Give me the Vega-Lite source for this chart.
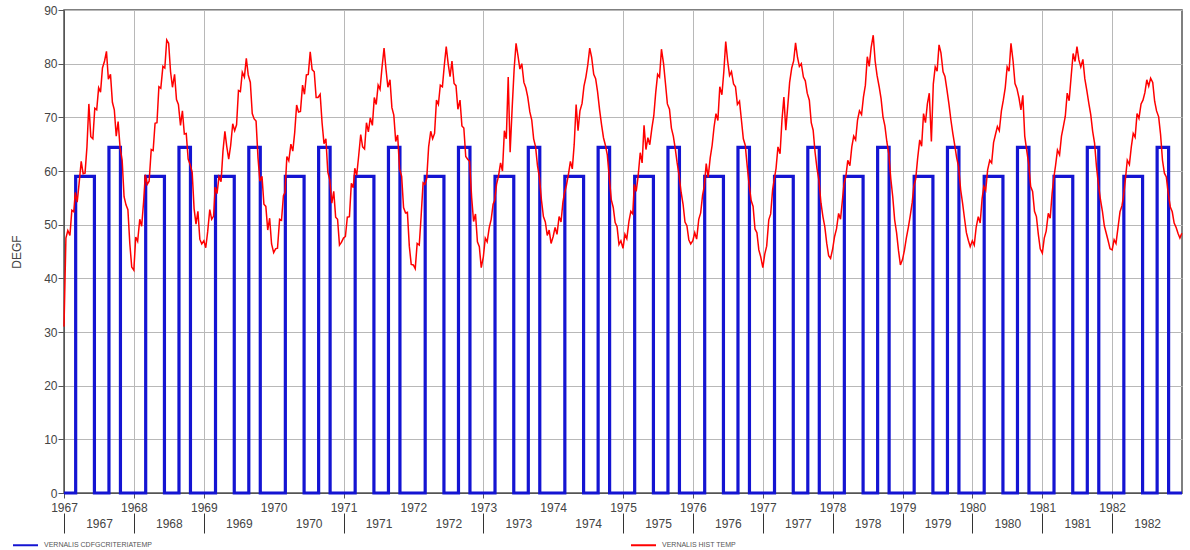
{
"$schema":"https://vega.github.io/schema/vega-lite/v6.json",
"width":1118,"height":483,
"autosize":{"type":"none"},
"padding":{"left":64,"top":10,"right":8,"bottom":57},
"background":"white",
"config":{
 "font":"Liberation Sans",
 "view":{"stroke":"#555555","strokeWidth":1.5},
 "axis":{"labelFont":"Liberation Sans","labelFontSize":12,"labelColor":"#444444","domainColor":"#555555","tickColor":"#555555","gridColor":"#b8b8b8","titleFont":"Liberation Sans","titleFontWeight":"normal","titleColor":"#444444","titleFontSize":12}
},
"datasets":{
"crit":[
{"d":"1967-01-01","v":0},{"d":"1967-03-03","v":59},{"d":"1967-06-09","v":0},{"d":"1967-08-24","v":64.4},{"d":"1967-10-23","v":0},
{"d":"1968-01-01","v":0},{"d":"1968-03-03","v":59},{"d":"1968-06-09","v":0},{"d":"1968-08-24","v":64.4},{"d":"1968-10-23","v":0},
{"d":"1969-01-01","v":0},{"d":"1969-03-03","v":59},{"d":"1969-06-09","v":0},{"d":"1969-08-24","v":64.4},{"d":"1969-10-23","v":0},
{"d":"1970-01-01","v":0},{"d":"1970-03-03","v":59},{"d":"1970-06-09","v":0},{"d":"1970-08-24","v":64.4},{"d":"1970-10-23","v":0},
{"d":"1971-01-01","v":0},{"d":"1971-03-03","v":59},{"d":"1971-06-09","v":0},{"d":"1971-08-24","v":64.4},{"d":"1971-10-23","v":0},
{"d":"1972-01-01","v":0},{"d":"1972-03-03","v":59},{"d":"1972-06-09","v":0},{"d":"1972-08-24","v":64.4},{"d":"1972-10-23","v":0},
{"d":"1973-01-01","v":0},{"d":"1973-03-03","v":59},{"d":"1973-06-09","v":0},{"d":"1973-08-24","v":64.4},{"d":"1973-10-23","v":0},
{"d":"1974-01-01","v":0},{"d":"1974-03-03","v":59},{"d":"1974-06-09","v":0},{"d":"1974-08-24","v":64.4},{"d":"1974-10-23","v":0},
{"d":"1975-01-01","v":0},{"d":"1975-03-03","v":59},{"d":"1975-06-09","v":0},{"d":"1975-08-24","v":64.4},{"d":"1975-10-23","v":0},
{"d":"1976-01-01","v":0},{"d":"1976-03-03","v":59},{"d":"1976-06-09","v":0},{"d":"1976-08-24","v":64.4},{"d":"1976-10-23","v":0},
{"d":"1977-01-01","v":0},{"d":"1977-03-03","v":59},{"d":"1977-06-09","v":0},{"d":"1977-08-24","v":64.4},{"d":"1977-10-23","v":0},
{"d":"1978-01-01","v":0},{"d":"1978-03-03","v":59},{"d":"1978-06-09","v":0},{"d":"1978-08-24","v":64.4},{"d":"1978-10-23","v":0},
{"d":"1979-01-01","v":0},{"d":"1979-03-03","v":59},{"d":"1979-06-09","v":0},{"d":"1979-08-24","v":64.4},{"d":"1979-10-23","v":0},
{"d":"1980-01-01","v":0},{"d":"1980-03-03","v":59},{"d":"1980-06-09","v":0},{"d":"1980-08-24","v":64.4},{"d":"1980-10-23","v":0},
{"d":"1981-01-01","v":0},{"d":"1981-03-03","v":59},{"d":"1981-06-09","v":0},{"d":"1981-08-24","v":64.4},{"d":"1981-10-23","v":0},
{"d":"1982-01-01","v":0},{"d":"1982-03-03","v":59},{"d":"1982-06-09","v":0},{"d":"1982-08-24","v":64.4},{"d":"1982-10-23","v":0},
{"d":"1983-01-01","v":0}
],
"hist":[
{"d":"1967-01-01","v":31},{"d":"1967-01-11","v":47.5},{"d":"1967-01-21","v":48.9},{"d":"1967-02-01","v":48},{"d":"1967-02-11","v":52.7},{"d":"1967-02-21","v":52.4},{"d":"1967-03-01","v":56},{"d":"1967-03-11","v":54.2},{"d":"1967-03-21","v":57.7},{"d":"1967-04-01","v":61.8},{"d":"1967-04-11","v":59.5},{"d":"1967-04-21","v":59.6},{"d":"1967-05-01","v":64.5},{"d":"1967-05-11","v":72.5},{"d":"1967-05-21","v":66.4},{"d":"1967-06-01","v":66},{"d":"1967-06-11","v":71.7},{"d":"1967-06-21","v":71.4},{"d":"1967-07-01","v":75.5},{"d":"1967-07-11","v":74.7},{"d":"1967-07-21","v":79.2},{"d":"1967-08-01","v":80.5},{"d":"1967-08-11","v":82.3},{"d":"1967-08-21","v":77.1},{"d":"1967-09-01","v":78},{"d":"1967-09-11","v":72.8},{"d":"1967-09-21","v":71.4},{"d":"1967-10-01","v":66.5},{"d":"1967-10-11","v":69.2},{"d":"1967-10-21","v":64.4},{"d":"1967-11-01","v":62},{"d":"1967-11-11","v":55.2},{"d":"1967-11-21","v":53.7},{"d":"1967-12-01","v":52.8},{"d":"1967-12-11","v":46.5},{"d":"1967-12-21","v":42.1},
{"d":"1968-01-01","v":41.5},{"d":"1968-01-11","v":47.7},{"d":"1968-01-21","v":46.9},{"d":"1968-02-01","v":51},{"d":"1968-02-11","v":49.7},{"d":"1968-02-21","v":54.2},{"d":"1968-03-01","v":59.3},{"d":"1968-03-11","v":57.5},{"d":"1968-03-21","v":58.1},{"d":"1968-04-01","v":64},{"d":"1968-04-11","v":63.8},{"d":"1968-04-21","v":68.9},{"d":"1968-05-01","v":69},{"d":"1968-05-11","v":75.7},{"d":"1968-05-21","v":75.4},{"d":"1968-06-01","v":79.5},{"d":"1968-06-11","v":79.2},{"d":"1968-06-21","v":84.4},{"d":"1968-07-01","v":83.8},{"d":"1968-07-11","v":78.5},{"d":"1968-07-21","v":75.6},{"d":"1968-08-01","v":78},{"d":"1968-08-11","v":73.3},{"d":"1968-08-21","v":72.4},{"d":"1968-09-01","v":68.5},{"d":"1968-09-11","v":71.2},{"d":"1968-09-21","v":66.9},{"d":"1968-10-01","v":67},{"d":"1968-10-11","v":62.2},{"d":"1968-10-21","v":61.2},{"d":"1968-11-01","v":59.8},{"d":"1968-11-11","v":53},{"d":"1968-11-21","v":50.1},{"d":"1968-12-01","v":52.5},{"d":"1968-12-11","v":47.3},{"d":"1968-12-21","v":46.4},
{"d":"1969-01-01","v":47},{"d":"1969-01-11","v":45.7},{"d":"1969-01-21","v":48.7},{"d":"1969-02-01","v":52.8},{"d":"1969-02-11","v":51},{"d":"1969-02-21","v":51.6},{"d":"1969-03-01","v":57},{"d":"1969-03-11","v":55.8},{"d":"1969-03-21","v":58.9},{"d":"1969-04-01","v":58},{"d":"1969-04-11","v":63.7},{"d":"1969-04-21","v":67.4},{"d":"1969-05-01","v":64.5},{"d":"1969-05-11","v":62.2},{"d":"1969-05-21","v":64.7},{"d":"1969-06-01","v":68.8},{"d":"1969-06-11","v":67.5},{"d":"1969-06-21","v":68.6},{"d":"1969-07-01","v":75},{"d":"1969-07-11","v":74.8},{"d":"1969-07-21","v":78.4},{"d":"1969-08-01","v":77.5},{"d":"1969-08-11","v":81},{"d":"1969-08-21","v":77.9},{"d":"1969-09-01","v":76.5},{"d":"1969-09-11","v":70.7},{"d":"1969-09-21","v":69.7},{"d":"1969-10-01","v":69.3},{"d":"1969-10-11","v":62.5},{"d":"1969-10-21","v":58.1},{"d":"1969-11-01","v":59},{"d":"1969-11-11","v":53.8},{"d":"1969-11-21","v":53.4},{"d":"1969-12-01","v":49},{"d":"1969-12-11","v":51.2},{"d":"1969-12-21","v":46.4},
{"d":"1970-01-01","v":44.8},{"d":"1970-01-11","v":45.5},{"d":"1970-01-21","v":45.6},{"d":"1970-02-01","v":51},{"d":"1970-02-11","v":50.8},{"d":"1970-02-21","v":55.4},{"d":"1970-03-01","v":56},{"d":"1970-03-11","v":62.7},{"d":"1970-03-21","v":61.9},{"d":"1970-04-01","v":65},{"d":"1970-04-11","v":63.7},{"d":"1970-04-21","v":67.2},{"d":"1970-05-01","v":72.3},{"d":"1970-05-11","v":71},{"d":"1970-05-21","v":71.1},{"d":"1970-06-01","v":76},{"d":"1970-06-11","v":74.3},{"d":"1970-06-21","v":77.9},{"d":"1970-07-01","v":78},{"d":"1970-07-11","v":82.2},{"d":"1970-07-21","v":78.9},{"d":"1970-08-01","v":78.5},{"d":"1970-08-11","v":73.7},{"d":"1970-08-21","v":73.7},{"d":"1970-09-01","v":74.3},{"d":"1970-09-11","v":69},{"d":"1970-09-21","v":65.1},{"d":"1970-10-01","v":66},{"d":"1970-10-11","v":59.8},{"d":"1970-10-21","v":58.4},{"d":"1970-11-01","v":54},{"d":"1970-11-11","v":56.2},{"d":"1970-11-21","v":51.4},{"d":"1970-12-01","v":51},{"d":"1970-12-11","v":46.2},{"d":"1970-12-21","v":46.7},
{"d":"1971-01-01","v":47.5},{"d":"1971-01-11","v":47.8},{"d":"1971-01-21","v":51.4},{"d":"1971-02-01","v":51.5},{"d":"1971-02-11","v":57.7},{"d":"1971-02-21","v":56.9},{"d":"1971-03-01","v":60.5},{"d":"1971-03-11","v":59.2},{"d":"1971-03-21","v":62.7},{"d":"1971-04-01","v":66.8},{"d":"1971-04-11","v":64.5},{"d":"1971-04-21","v":64.1},{"d":"1971-05-01","v":69},{"d":"1971-05-11","v":67.3},{"d":"1971-05-21","v":69.9},{"d":"1971-06-01","v":68.5},{"d":"1971-06-11","v":73.7},{"d":"1971-06-21","v":72.4},{"d":"1971-07-01","v":76},{"d":"1971-07-11","v":75.2},{"d":"1971-07-21","v":79.2},{"d":"1971-08-01","v":82.9},{"d":"1971-08-11","v":79},{"d":"1971-08-21","v":75.6},{"d":"1971-09-01","v":77},{"d":"1971-09-11","v":71.8},{"d":"1971-09-21","v":70.4},{"d":"1971-10-01","v":65.5},{"d":"1971-10-11","v":66.7},{"d":"1971-10-21","v":60.4},{"d":"1971-11-01","v":59},{"d":"1971-11-11","v":53.2},{"d":"1971-11-21","v":52.2},{"d":"1971-12-01","v":52.3},{"d":"1971-12-11","v":46},{"d":"1971-12-21","v":42.6},
{"d":"1972-01-01","v":42.5},{"d":"1972-01-11","v":41.8},{"d":"1972-01-21","v":46.5},{"d":"1972-02-01","v":46.2},{"d":"1972-02-11","v":51.7},{"d":"1972-02-21","v":57.8},{"d":"1972-03-01","v":57.5},{"d":"1972-03-11","v":58.6},{"d":"1972-03-21","v":64.5},{"d":"1972-04-01","v":67.4},{"d":"1972-04-11","v":66},{"d":"1972-04-21","v":67},{"d":"1972-05-01","v":73.2},{"d":"1972-05-11","v":72.4},{"d":"1972-05-21","v":76},{"d":"1972-06-01","v":75.7},{"d":"1972-06-11","v":79.7},{"d":"1972-06-21","v":83.2},{"d":"1972-07-01","v":80},{"d":"1972-07-11","v":77.6},{"d":"1972-07-21","v":80.5},{"d":"1972-08-01","v":76.3},{"d":"1972-08-11","v":75.9},{"d":"1972-08-21","v":71.5},{"d":"1972-09-01","v":73.2},{"d":"1972-09-11","v":68.4},{"d":"1972-09-21","v":68},{"d":"1972-10-01","v":62.7},{"d":"1972-10-11","v":62.2},{"d":"1972-10-21","v":61.8},{"d":"1972-11-01","v":55},{"d":"1972-11-11","v":50.6},{"d":"1972-11-21","v":52},{"d":"1972-12-01","v":46.8},{"d":"1972-12-11","v":45.9},{"d":"1972-12-21","v":42},
{"d":"1973-01-01","v":44},{"d":"1973-01-11","v":47.5},{"d":"1973-01-21","v":46.8},{"d":"1973-02-01","v":49.5},{"d":"1973-02-11","v":51},{"d":"1973-02-21","v":53.8},{"d":"1973-03-01","v":54.5},{"d":"1973-03-11","v":57.5},{"d":"1973-03-21","v":59},{"d":"1973-04-01","v":61.5},{"d":"1973-04-11","v":60},{"d":"1973-04-21","v":67.5},{"d":"1973-05-01","v":66},{"d":"1973-05-11","v":77.5},{"d":"1973-05-21","v":63.5},{"d":"1973-06-01","v":72},{"d":"1973-06-11","v":79},{"d":"1973-06-21","v":83.8},{"d":"1973-07-01","v":81.5},{"d":"1973-07-11","v":79},{"d":"1973-07-21","v":80},{"d":"1973-08-01","v":76.5},{"d":"1973-08-11","v":75.5},{"d":"1973-08-21","v":73.8},{"d":"1973-09-01","v":71},{"d":"1973-09-11","v":69.5},{"d":"1973-09-21","v":66},{"d":"1973-10-01","v":64.5},{"d":"1973-10-11","v":61},{"d":"1973-10-21","v":58.8},{"d":"1973-11-01","v":54.5},{"d":"1973-11-11","v":51.5},{"d":"1973-11-21","v":50.5},{"d":"1973-12-01","v":48},{"d":"1973-12-11","v":49},{"d":"1973-12-21","v":46.5},
{"d":"1974-01-01","v":47.8},{"d":"1974-01-11","v":49.5},{"d":"1974-01-21","v":48.2},{"d":"1974-02-01","v":51.5},{"d":"1974-02-11","v":50.5},{"d":"1974-02-21","v":54.2},{"d":"1974-03-01","v":55.9},{"d":"1974-03-11","v":57.3},{"d":"1974-03-21","v":59.2},{"d":"1974-04-01","v":61.8},{"d":"1974-04-11","v":60.4},{"d":"1974-04-21","v":65},{"d":"1974-05-01","v":72.4},{"d":"1974-05-11","v":67.5},{"d":"1974-05-21","v":71.2},{"d":"1974-06-01","v":72.6},{"d":"1974-06-11","v":75.8},{"d":"1974-06-21","v":77.5},{"d":"1974-07-01","v":79.8},{"d":"1974-07-11","v":82.9},{"d":"1974-07-21","v":81.2},{"d":"1974-08-01","v":78},{"d":"1974-08-11","v":77.2},{"d":"1974-08-21","v":74.8},{"d":"1974-09-01","v":71.3},{"d":"1974-09-11","v":68.6},{"d":"1974-09-21","v":66.2},{"d":"1974-10-01","v":64.8},{"d":"1974-10-11","v":63},{"d":"1974-10-21","v":58.9},{"d":"1974-11-01","v":54.6},{"d":"1974-11-11","v":53.2},{"d":"1974-11-21","v":50.4},{"d":"1974-12-01","v":49.6},{"d":"1974-12-11","v":46.3},{"d":"1974-12-21","v":47},
{"d":"1975-01-01","v":45.6},{"d":"1975-01-11","v":48.2},{"d":"1975-01-21","v":47.4},{"d":"1975-02-01","v":50.6},{"d":"1975-02-11","v":52.5},{"d":"1975-02-21","v":52},{"d":"1975-03-01","v":57.5},{"d":"1975-03-11","v":56.2},{"d":"1975-03-21","v":59},{"d":"1975-04-01","v":63.4},{"d":"1975-04-11","v":61.5},{"d":"1975-04-21","v":68.5},{"d":"1975-05-01","v":64},{"d":"1975-05-11","v":66.2},{"d":"1975-05-21","v":64.9},{"d":"1975-06-01","v":68},{"d":"1975-06-11","v":70.3},{"d":"1975-06-21","v":74.6},{"d":"1975-07-01","v":78},{"d":"1975-07-11","v":77.5},{"d":"1975-07-21","v":82.7},{"d":"1975-08-01","v":80},{"d":"1975-08-11","v":76.3},{"d":"1975-08-21","v":72.5},{"d":"1975-09-01","v":71.5},{"d":"1975-09-11","v":68},{"d":"1975-09-21","v":66.5},{"d":"1975-10-01","v":64.2},{"d":"1975-10-11","v":61.5},{"d":"1975-10-21","v":59.2},{"d":"1975-11-01","v":56},{"d":"1975-11-11","v":53.8},{"d":"1975-11-21","v":50.5},{"d":"1975-12-01","v":49.8},{"d":"1975-12-11","v":47.2},{"d":"1975-12-21","v":46.4},
{"d":"1976-01-01","v":47},{"d":"1976-01-11","v":48.5},{"d":"1976-01-21","v":47.3},{"d":"1976-02-01","v":51},{"d":"1976-02-11","v":52.2},{"d":"1976-02-21","v":55.5},{"d":"1976-03-01","v":57.2},{"d":"1976-03-11","v":61.4},{"d":"1976-03-21","v":58.8},{"d":"1976-04-01","v":62.5},{"d":"1976-04-11","v":64.8},{"d":"1976-04-21","v":68.2},{"d":"1976-05-01","v":70.7},{"d":"1976-05-11","v":69.4},{"d":"1976-05-21","v":75.7},{"d":"1976-06-01","v":74.2},{"d":"1976-06-11","v":78.5},{"d":"1976-06-21","v":84.1},{"d":"1976-07-01","v":80.5},{"d":"1976-07-11","v":77.8},{"d":"1976-07-21","v":78.5},{"d":"1976-08-01","v":76.2},{"d":"1976-08-11","v":75.7},{"d":"1976-08-21","v":72.4},{"d":"1976-09-01","v":73},{"d":"1976-09-11","v":69.5},{"d":"1976-09-21","v":66},{"d":"1976-10-01","v":64.8},{"d":"1976-10-11","v":61},{"d":"1976-10-21","v":57.5},{"d":"1976-11-01","v":54.5},{"d":"1976-11-11","v":53.4},{"d":"1976-11-21","v":49.2},{"d":"1976-12-01","v":48.5},{"d":"1976-12-11","v":45.3},{"d":"1976-12-21","v":44},
{"d":"1977-01-01","v":42},{"d":"1977-01-11","v":44.5},{"d":"1977-01-21","v":46},{"d":"1977-02-01","v":50.9},{"d":"1977-02-11","v":52},{"d":"1977-02-21","v":56.5},{"d":"1977-03-01","v":58.3},{"d":"1977-03-11","v":60.5},{"d":"1977-03-21","v":64.5},{"d":"1977-04-01","v":63.2},{"d":"1977-04-11","v":69.5},{"d":"1977-04-21","v":73.8},{"d":"1977-05-01","v":67.6},{"d":"1977-05-11","v":72},{"d":"1977-05-21","v":76.5},{"d":"1977-06-01","v":79.2},{"d":"1977-06-11","v":80.5},{"d":"1977-06-21","v":83.9},{"d":"1977-07-01","v":81.2},{"d":"1977-07-11","v":79.5},{"d":"1977-07-21","v":80},{"d":"1977-08-01","v":77.5},{"d":"1977-08-11","v":76.8},{"d":"1977-08-21","v":74.5},{"d":"1977-09-01","v":73.2},{"d":"1977-09-11","v":69},{"d":"1977-09-21","v":67.6},{"d":"1977-10-01","v":63.5},{"d":"1977-10-11","v":60.5},{"d":"1977-10-21","v":58.3},{"d":"1977-11-01","v":54},{"d":"1977-11-11","v":51.5},{"d":"1977-11-21","v":49.6},{"d":"1977-12-01","v":46.5},{"d":"1977-12-11","v":44.2},{"d":"1977-12-21","v":43.7},
{"d":"1978-01-01","v":45.5},{"d":"1978-01-11","v":47.8},{"d":"1978-01-21","v":49.2},{"d":"1978-02-01","v":52.1},{"d":"1978-02-11","v":51},{"d":"1978-02-21","v":54.6},{"d":"1978-03-01","v":57.5},{"d":"1978-03-11","v":59},{"d":"1978-03-21","v":62},{"d":"1978-04-01","v":61},{"d":"1978-04-11","v":64.5},{"d":"1978-04-21","v":66.5},{"d":"1978-05-01","v":65.8},{"d":"1978-05-11","v":69.5},{"d":"1978-05-21","v":71.2},{"d":"1978-06-01","v":70.5},{"d":"1978-06-11","v":73.8},{"d":"1978-06-21","v":76},{"d":"1978-07-01","v":81.3},{"d":"1978-07-11","v":79.5},{"d":"1978-07-21","v":83},{"d":"1978-08-01","v":85.3},{"d":"1978-08-11","v":80.5},{"d":"1978-08-21","v":77.8},{"d":"1978-09-01","v":75.7},{"d":"1978-09-11","v":73.5},{"d":"1978-09-21","v":70.1},{"d":"1978-10-01","v":68.4},{"d":"1978-10-11","v":65.5},{"d":"1978-10-21","v":63.3},{"d":"1978-11-01","v":58.5},{"d":"1978-11-11","v":55.2},{"d":"1978-11-21","v":50.9},{"d":"1978-12-01","v":48.5},{"d":"1978-12-11","v":45.2},{"d":"1978-12-21","v":42.5},
{"d":"1979-01-01","v":43.5},{"d":"1979-01-11","v":45.2},{"d":"1979-01-21","v":47.5},{"d":"1979-02-01","v":49.6},{"d":"1979-02-11","v":51.8},{"d":"1979-02-21","v":54.2},{"d":"1979-03-01","v":57.1},{"d":"1979-03-11","v":58.5},{"d":"1979-03-21","v":62.3},{"d":"1979-04-01","v":65.8},{"d":"1979-04-11","v":64.6},{"d":"1979-04-21","v":70.7},{"d":"1979-05-01","v":69},{"d":"1979-05-11","v":72.5},{"d":"1979-05-21","v":74.5},{"d":"1979-06-01","v":65.5},{"d":"1979-06-11","v":76.2},{"d":"1979-06-21","v":79.4},{"d":"1979-07-01","v":78.6},{"d":"1979-07-11","v":83.5},{"d":"1979-07-21","v":82},{"d":"1979-08-01","v":78.5},{"d":"1979-08-11","v":77.6},{"d":"1979-08-21","v":75.2},{"d":"1979-09-01","v":72.4},{"d":"1979-09-11","v":69.5},{"d":"1979-09-21","v":67},{"d":"1979-10-01","v":64.8},{"d":"1979-10-11","v":62.5},{"d":"1979-10-21","v":60.8},{"d":"1979-11-01","v":56.5},{"d":"1979-11-11","v":54},{"d":"1979-11-21","v":51.2},{"d":"1979-12-01","v":48.5},{"d":"1979-12-11","v":47.1},{"d":"1979-12-21","v":45.9},
{"d":"1980-01-01","v":47},{"d":"1980-01-11","v":46.2},{"d":"1980-01-21","v":49.5},{"d":"1980-02-01","v":51.5},{"d":"1980-02-11","v":50.3},{"d":"1980-02-21","v":54.8},{"d":"1980-03-01","v":57.1},{"d":"1980-03-11","v":56.4},{"d":"1980-03-21","v":60.2},{"d":"1980-04-01","v":62},{"d":"1980-04-11","v":61.5},{"d":"1980-04-21","v":65.3},{"d":"1980-05-01","v":66.8},{"d":"1980-05-11","v":68.3},{"d":"1980-05-21","v":67.5},{"d":"1980-06-01","v":71.2},{"d":"1980-06-11","v":73.2},{"d":"1980-06-21","v":75.5},{"d":"1980-07-01","v":79.4},{"d":"1980-07-11","v":78.6},{"d":"1980-07-21","v":83.8},{"d":"1980-08-01","v":80.5},{"d":"1980-08-11","v":76.3},{"d":"1980-08-21","v":75.4},{"d":"1980-09-01","v":73.6},{"d":"1980-09-11","v":71.4},{"d":"1980-09-21","v":74.1},{"d":"1980-10-01","v":66.5},{"d":"1980-10-11","v":63.9},{"d":"1980-10-21","v":61.5},{"d":"1980-11-01","v":57.1},{"d":"1980-11-11","v":56.2},{"d":"1980-11-21","v":52.5},{"d":"1980-12-01","v":51.5},{"d":"1980-12-11","v":48.2},{"d":"1980-12-21","v":45.5},
{"d":"1981-01-01","v":44.7},{"d":"1981-01-11","v":47.5},{"d":"1981-01-21","v":48.8},{"d":"1981-02-01","v":52.1},{"d":"1981-02-11","v":51.2},{"d":"1981-02-21","v":55.8},{"d":"1981-03-01","v":58.5},{"d":"1981-03-11","v":61},{"d":"1981-03-21","v":63.9},{"d":"1981-04-01","v":63},{"d":"1981-04-11","v":66.5},{"d":"1981-04-21","v":68.3},{"d":"1981-05-01","v":70.2},{"d":"1981-05-11","v":74.5},{"d":"1981-05-21","v":73.1},{"d":"1981-06-01","v":77.8},{"d":"1981-06-11","v":81.9},{"d":"1981-06-21","v":80.4},{"d":"1981-07-01","v":83.2},{"d":"1981-07-11","v":80.7},{"d":"1981-07-21","v":79.4},{"d":"1981-08-01","v":80.8},{"d":"1981-08-11","v":77.2},{"d":"1981-08-21","v":75.1},{"d":"1981-09-01","v":72.6},{"d":"1981-09-11","v":70.5},{"d":"1981-09-21","v":67.4},{"d":"1981-10-01","v":65.2},{"d":"1981-10-11","v":60.8},{"d":"1981-10-21","v":57.5},{"d":"1981-11-01","v":54.6},{"d":"1981-11-11","v":52.5},{"d":"1981-11-21","v":49.8},{"d":"1981-12-01","v":48.4},{"d":"1981-12-11","v":47},{"d":"1981-12-21","v":45.5},
{"d":"1982-01-01","v":45.3},{"d":"1982-01-11","v":47.2},{"d":"1982-01-21","v":46.5},{"d":"1982-02-01","v":49.6},{"d":"1982-02-11","v":52.4},{"d":"1982-02-21","v":53.5},{"d":"1982-03-01","v":55.2},{"d":"1982-03-11","v":58.4},{"d":"1982-03-21","v":62},{"d":"1982-04-01","v":61.2},{"d":"1982-04-11","v":64.5},{"d":"1982-04-21","v":67},{"d":"1982-05-01","v":66.3},{"d":"1982-05-11","v":70.7},{"d":"1982-05-21","v":69.8},{"d":"1982-06-01","v":72.5},{"d":"1982-06-11","v":73.2},{"d":"1982-06-21","v":74.6},{"d":"1982-07-01","v":77},{"d":"1982-07-11","v":75.8},{"d":"1982-07-21","v":77.3},{"d":"1982-08-01","v":76.5},{"d":"1982-08-11","v":73},{"d":"1982-08-21","v":71.2},{"d":"1982-09-01","v":70.1},{"d":"1982-09-11","v":66.8},{"d":"1982-09-21","v":62},{"d":"1982-10-01","v":59.6},{"d":"1982-10-11","v":58.9},{"d":"1982-10-21","v":55.8},{"d":"1982-11-01","v":53.3},{"d":"1982-11-11","v":52.4},{"d":"1982-11-21","v":50.3},{"d":"1982-12-01","v":49.5},{"d":"1982-12-11","v":48.4},{"d":"1982-12-21","v":47.5},{"d":"1982-12-31","v":48.4}
]
},
"layer":[
{
 "data":{"name":"crit"},
 "mark":{"type":"line","interpolate":"step-after","strokeWidth":3.2,"strokeJoin":"miter"},
 "encoding":{
  "x":{"field":"d","type":"temporal",
   "scale":{"type":"utc","domain":[{"year":1967,"month":1,"date":1,"utc":true},{"year":1983,"month":1,"date":1,"utc":true}]},
   "axis":{"orient":"bottom","title":null,"format":"%Y","labelFlush":false,"labelOverlap":false,"tickSize":5,"labelPadding":4,"grid":true,
    "values":[{"year":1967,"utc":true},{"year":1968,"utc":true},{"year":1969,"utc":true},{"year":1970,"utc":true},{"year":1971,"utc":true},{"year":1972,"utc":true},{"year":1973,"utc":true},{"year":1974,"utc":true},{"year":1975,"utc":true},{"year":1976,"utc":true},{"year":1977,"utc":true},{"year":1978,"utc":true},{"year":1979,"utc":true},{"year":1980,"utc":true},{"year":1981,"utc":true},{"year":1982,"utc":true}],
    "gridOpacity":{"condition":{"test":"utcyear(datum.value)==1970||utcyear(datum.value)==1972||utcyear(datum.value)==1974","value":0},"value":1},
    "tickOpacity":{"condition":{"test":"utcyear(datum.value)==1970||utcyear(datum.value)==1972||utcyear(datum.value)==1974","value":0},"value":1}
   }},
  "y":{"field":"v","type":"quantitative","scale":{"domain":[0,90],"nice":false},
   "axis":{"title":"DEGF","values":[0,10,20,30,40,50,60,70,80,90],"tickSize":6,"labelPadding":1,"grid":true,"titlePadding":20}},
  "color":{"datum":"VERNALIS CDFGCRITERIATEMP","type":"nominal",
   "scale":{"domain":["VERNALIS CDFGCRITERIATEMP","VERNALIS HIST TEMP"],"range":["#1414d2","#ff0000"]},
   "legend":{"title":null,"orient":"none","legendX":-52,"legendY":521.5,"direction":"horizontal","symbolType":"stroke","symbolSize":625,"symbolStrokeWidth":2,"labelFont":"Liberation Sans","labelFontSize":7,"labelColor":"#555555","labelOffset":5,"columnPadding":475,"padding":0}}
 }
},
{
 "data":{"name":"hist"},
 "mark":{"type":"line","strokeWidth":1.5},
 "encoding":{
  "x":{"field":"d","type":"temporal",
   "axis":{"orient":"bottom","title":null,"format":"%Y","labelFlush":false,"labelOverlap":false,"domain":false,"grid":false,"offset":20,"tickSize":20,"labelPadding":-14.5,"labelOffset":35,"tickColor":"#333333",
    "values":[{"year":1967,"utc":true},{"year":1968,"utc":true},{"year":1969,"utc":true},{"year":1970,"utc":true},{"year":1971,"utc":true},{"year":1972,"utc":true},{"year":1973,"utc":true},{"year":1974,"utc":true},{"year":1975,"utc":true},{"year":1976,"utc":true},{"year":1977,"utc":true},{"year":1978,"utc":true},{"year":1979,"utc":true},{"year":1980,"utc":true},{"year":1981,"utc":true},{"year":1982,"utc":true}],
    "tickOpacity":{"condition":{"test":"utcyear(datum.value)==1970||utcyear(datum.value)==1972||utcyear(datum.value)==1974","value":0},"value":1}
   }},
  "y":{"field":"v","type":"quantitative"},
  "color":{"datum":"VERNALIS HIST TEMP","type":"nominal"}
 }
}
],
"resolve":{"axis":{"x":"independent"}}
}
